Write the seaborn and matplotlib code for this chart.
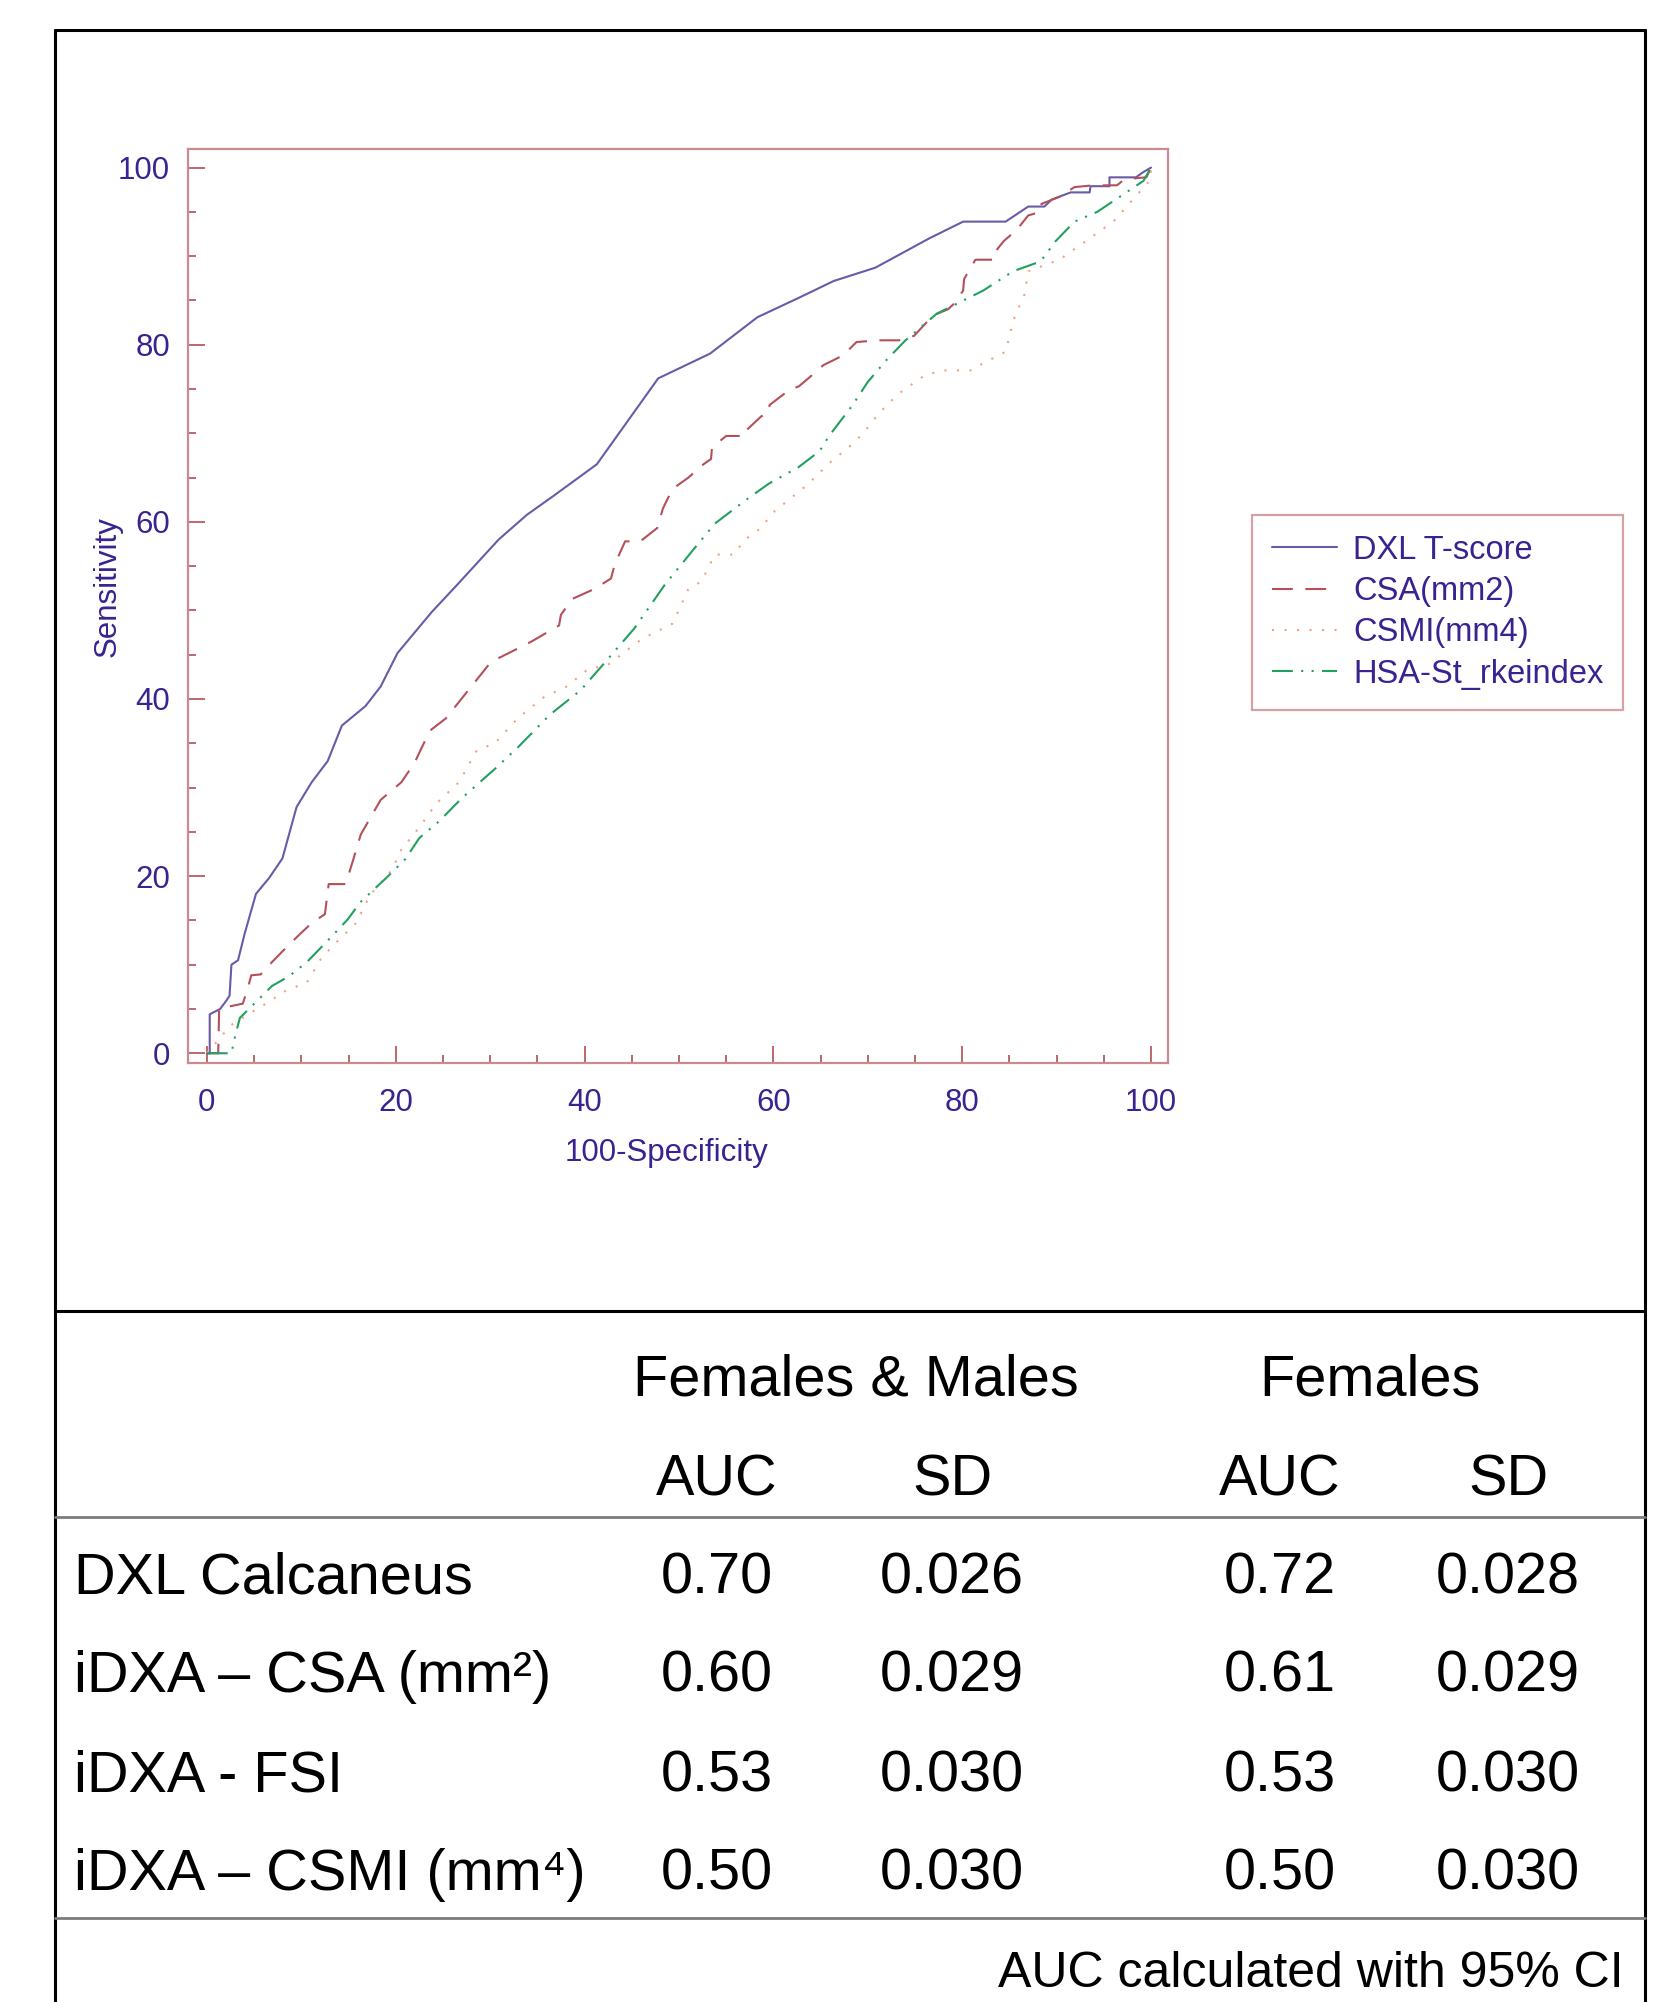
import numpy as np
import pandas as pd
import matplotlib
matplotlib.use('Agg')
import matplotlib.pyplot as plt
import seaborn as sns
from matplotlib.ticker import MultipleLocator

# ROC points: x = 100-Specificity, y = Sensitivity
dxl_x = [0, 0.3, 0.3, 1.4, 2.1, 2.4, 2.6, 3.3, 4.0, 5.2, 6.6, 8.0, 9.5, 11.1, 12.8, 14.3, 16.8, 18.4,
         20.2, 23.8, 26.6, 30.9, 33.9, 36.8, 41.3, 47.8, 53.3, 58.3, 62.7, 66.4, 70.8, 76.5, 80.1,
         84.6, 87.0, 88.7, 89.5, 91.5, 93.5, 93.6, 95.6, 95.6, 98.4, 99.2, 100]
dxl_y = [0, 0, 4.4, 5.0, 6.0, 6.5, 10.0, 10.5, 13.5, 18.0, 19.8, 22.0, 27.8, 30.6, 33.0, 37.0, 39.2, 41.4,
         45.2, 49.8, 53.0, 58.0, 60.8, 63.0, 66.5, 76.2, 79.0, 83.1, 85.3, 87.2, 88.7, 92.0, 93.9,
         93.9, 95.6, 95.6, 96.4, 97.2, 97.2, 97.9, 97.9, 98.9, 98.9, 99.5, 100]

csa_x = [0, 1.2, 1.3, 2.0, 3.8, 4.3, 4.7, 5.7, 6.9, 8.0, 9.7, 11.1, 12.5, 12.9, 14.7, 15.4, 16.3, 18.4,
         20.6, 22.0, 23.6, 25.3, 27.7, 30.1, 32.0, 34.4, 37.3, 37.5, 38.7, 41.0, 42.8, 43.2, 44.3, 45.9,
         47.7, 48.3, 49.3, 51.0, 52.6, 53.4, 53.5, 55.0, 57.0, 57.1, 58.7, 59.5, 59.6, 61.7, 62.7, 63.7,
         65.3, 67.4, 68.8, 71.0, 73.3, 74.9, 76.9, 78.5, 79.1, 80.1, 80.2, 81.4, 83.4, 83.5, 84.4, 85.8,
         87.0, 88.3, 88.4, 90.3, 91.9, 93.9, 96.4, 97.2, 99.5, 100]
csa_y = [0, 0, 5.0, 5.2, 5.6, 7.2, 8.8, 8.9, 10.3, 11.5, 13.3, 14.7, 15.7, 19.1, 19.1, 21.5, 24.7, 28.6,
         30.6, 32.8, 36.4, 37.8, 41.0, 44.2, 45.2, 46.5, 48.3, 49.5, 51.3, 52.4, 53.6, 55.2, 57.8, 57.8,
         59.3, 61.5, 63.7, 65.0, 66.5, 67.1, 68.4, 69.7, 69.7, 70.3, 71.9, 72.3, 73.2, 74.9, 75.3, 76.2,
         77.7, 78.8, 80.3, 80.5, 80.5, 81.0, 83.3, 84.0, 84.6, 86.1, 87.4, 89.6, 89.6, 90.5, 91.7, 93.0,
         94.6, 95.0, 95.9, 96.7, 97.8, 98.0, 98.0, 98.7, 98.9, 100]

csmi_x = [0, 1.6, 2.6, 4.5, 6.9, 7.8, 10.6, 12.1, 13.5, 15.8, 17.3, 19.6, 20.6, 22.5, 24.3, 26.7, 28.6,
          30.5, 32.9, 35.7, 38.1, 40.4, 42.4, 46.1, 49.3, 51.0, 52.4, 53.8, 55.8, 57.0, 58.7, 59.9,
          63.5, 66.0, 68.4, 69.6, 71.2, 73.3, 76.1, 78.1, 81.0, 82.2, 84.6, 85.4, 86.6, 87.0, 90.3,
          93.1, 96.0, 100, 100]
csmi_y = [0, 2.0, 3.2, 4.5, 6.0, 6.8, 8.0, 10.7, 12.3, 14.7, 17.9, 20.7, 23.0, 25.5, 28.2, 30.6, 34.2,
          35.0, 37.8, 40.2, 41.4, 43.4, 43.8, 46.8, 48.5, 52.4, 53.3, 56.3, 56.3, 58.0, 59.3, 61.0,
          64.1, 66.7, 68.8, 70.1, 72.3, 74.5, 76.6, 77.1, 77.1, 77.9, 79.2, 82.7, 85.7, 88.3, 89.6,
          91.7, 93.9, 98.7, 100]

hsa_x = [0, 2.6, 3.0, 3.5, 5.2, 6.9, 8.7, 10.6, 13.5, 14.9, 16.3, 19.1, 21.0, 22.5, 24.6, 27.0, 30.6,
         33.0, 36.3, 39.6, 42.3, 45.3, 48.5, 51.4, 53.8, 57.0, 59.5, 62.7, 64.9, 65.9, 68.4, 70.0,
         72.0, 74.0, 77.3, 82.2, 85.4, 88.3, 89.9, 91.9, 94.3, 96.4, 99.2, 100]
hsa_y = [0, 0, 2.0, 4.0, 5.8, 7.6, 8.7, 10.3, 13.5, 15.1, 17.1, 19.9, 21.9, 24.3, 26.2, 28.8, 32.2,
         34.6, 38.2, 41.0, 44.3, 48.0, 52.9, 56.7, 59.8, 62.4, 64.3, 66.2, 68.0, 69.7, 73.2, 75.8,
         78.3, 80.5, 83.5, 86.1, 88.3, 89.4, 91.7, 93.9, 95.0, 96.5, 98.5, 100]

series_names = ['DXL T-score', 'CSA(mm2)', 'CSMI(mm4)', 'HSA-St_rkeindex']

# table under the chart
row_names = ['DXL Calcaneus', 'iDXA – CSA (mm²)', 'iDXA - FSI', 'iDXA – CSMI (mm⁴)']
auc_all = ['0.70', '0.60', '0.53', '0.50']
sd_all = ['0.026', '0.029', '0.030', '0.030']
auc_fem = ['0.72', '0.61', '0.53', '0.50']
sd_fem = ['0.028', '0.029', '0.030', '0.030']

df = pd.concat([
    pd.DataFrame({'fpr': dxl_x, 'tpr': dxl_y, 'marker': series_names[0]}),
    pd.DataFrame({'fpr': csa_x, 'tpr': csa_y, 'marker': series_names[1]}),
    pd.DataFrame({'fpr': csmi_x, 'tpr': csmi_y, 'marker': series_names[2]}),
    pd.DataFrame({'fpr': hsa_x, 'tpr': hsa_y, 'marker': series_names[3]}),
], ignore_index=True)

sns.set_style('white')
plt.rcParams['font.family'] = ['Liberation Sans', 'DejaVu Sans']
plt.rcParams['text.color'] = 'black'

indigo = '#3a2290'
frame_col = '#c98a90'
palette = {series_names[0]: '#6a5aa8', series_names[1]: '#b4505a',
           series_names[2]: '#f2a27e', series_names[3]: '#22a060'}
dashes = {series_names[0]: '', series_names[1]: (10, 6),
          series_names[2]: (1, 5), series_names[3]: (10, 4, 1, 4, 1, 4)}

W, H = 1653, 2002
fig = plt.figure(figsize=(W / 100, H / 100), dpi=100)

# background layer in pixel units: outer box and table
bg = fig.add_axes([0, 0, 1, 1], zorder=0)
bg.set_xlim(0, W)
bg.set_ylim(H, 0)
bg.axis('off')
bg.plot([55, 55], [30, H], color='black', lw=2.2)
bg.plot([1645, 1645], [30, H], color='black', lw=2.2)
bg.plot([55, 1645], [30, 30], color='black', lw=2.2)
bg.plot([55, 1645], [1311, 1311], color='black', lw=2.2)
bg.plot([55, 1645], [1517, 1517], color='#7c7c7c', lw=2)
bg.plot([55, 1645], [1918, 1918], color='#7c7c7c', lw=2)

tfs = 41.5
bg.text(856, 1381, 'Females & Males', fontsize=tfs, ha='center', va='center')
bg.text(1370, 1381, 'Females', fontsize=tfs, ha='center', va='center')
col_x = [717, 952, 1280, 1508]
for cx, head in zip(col_x, ['AUC', 'SD', 'AUC', 'SD']):
    bg.text(cx, 1480, head, fontsize=tfs, ha='center', va='center')
row_y = [1578, 1677, 1776, 1875]
for i, ry in enumerate(row_y):
    bg.text(74, ry, row_names[i], fontsize=tfs, ha='left', va='center')
    for cx, col in zip(col_x, [auc_all, sd_all, auc_fem, sd_fem]):
        bg.text(cx, ry, col[i], fontsize=tfs, ha='center', va='center')
bg.text(1624, 1974, 'AUC calculated with 95% CI', fontsize=36, ha='right', va='center')

# ROC chart
ax = fig.add_axes([188 / W, 1 - 1063 / H, 980 / W, 914 / H], zorder=2)
sns.lineplot(data=df, x='fpr', y='tpr', hue='marker', style='marker',
             hue_order=series_names, style_order=series_names,
             palette=palette, dashes=dashes, sort=False, estimator=None,
             linewidth=1.5, legend=False, ax=ax)

ax.set_xlim(-2, 101.8)
ax.set_ylim(-1.1, 102.1)
ax.xaxis.set_major_locator(MultipleLocator(20))
ax.xaxis.set_minor_locator(MultipleLocator(5))
ax.yaxis.set_major_locator(MultipleLocator(20))
ax.yaxis.set_minor_locator(MultipleLocator(5))
ax.tick_params(which='both', direction='in', bottom=True, left=True, top=False, right=False,
               color='#b85a60', width=1.3)
ax.tick_params(which='major', length=12, labelsize=22.5, labelcolor=indigo)
ax.tick_params(which='minor', length=6)
ax.tick_params(axis='x', which='major', pad=18)
ax.tick_params(axis='y', which='major', pad=13)
for sp in ax.spines.values():
    sp.set_color(frame_col)
    sp.set_linewidth(1.6)

ax.set_xlabel('100-Specificity', fontsize=22.5, color=indigo)
ax.xaxis.label.set_va('center')
ax.xaxis.set_label_coords(0.488, -0.098)
ax.set_ylabel('Sensitivity', fontsize=22.5, color=indigo)
ax.yaxis.label.set_va('center')
ax.yaxis.set_label_coords(-0.082, 0.521)

leg = ax.legend(ax.lines[:4], series_names, loc='upper left',
                bbox_to_anchor=(1252 / W, 1 - 515 / H), bbox_transform=fig.transFigure,
                borderaxespad=0, frameon=True, fancybox=False, fontsize=23.5,
                labelcolor=indigo, handlelength=2.0, handletextpad=0.5,
                labelspacing=0.32, borderpad=0.6)
leg.get_frame().set_edgecolor(frame_col)
leg.get_frame().set_linewidth(1.6)

fig.savefig('out.png', dpi=100)
